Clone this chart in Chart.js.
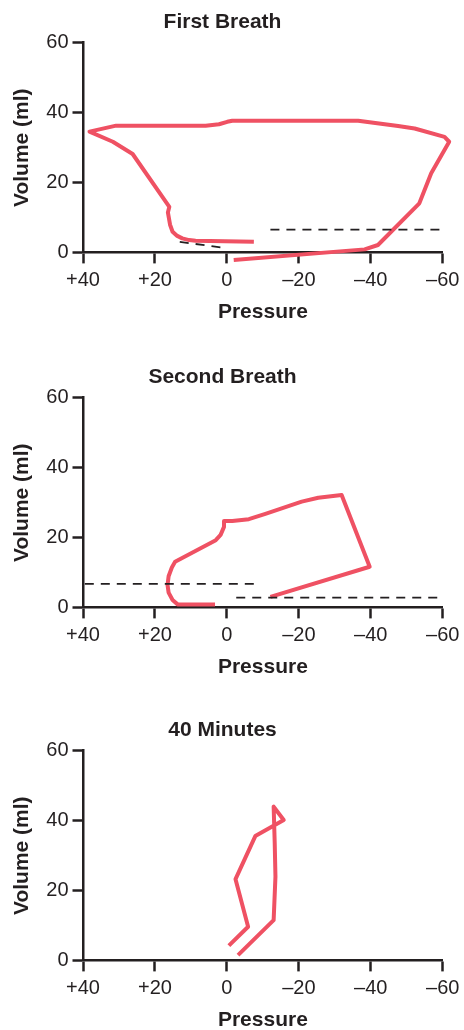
<!DOCTYPE html>
<html>
<head>
<meta charset="utf-8">
<script src="https://cdn.jsdelivr.net/npm/chart.js@4/dist/chart.umd.min.js"></script>
<style>
    html, body { margin: 0; padding: 0; background: #fff; overflow: hidden; }
    .panel { position: absolute; left: 0; width: 464px; height: 330px; }
</style>
</head>
<body>
<div class="panel" style="top:0px"><canvas id="breath1" width="464" height="330"></canvas></div>
<div class="panel" style="top:355px"><canvas id="breath2" width="464" height="330"></canvas></div>
<div class="panel" style="top:708px"><canvas id="breath3" width="464" height="330"></canvas></div>
<script>
// axis ticks
const pressureTicks = [40, 20, 0, -20, -40, -60];
const pressureTickLabels = ['+40', '+20', '0', '\u201320', '\u201340', '\u201360'];
const volumeTicks = [0, 20, 40, 60];
const volumeTickLabels = ['0', '20', '40', '60'];

// First breath: pressure / volume loop
const firstLoopPressure = [-1.9, -38.3, -42.0, -53.5, -56.8, -61.8, -60.5, -52.2, -47.6, -36.5, -1.5, -0.1, 2.2, 5.9, 11.4, 30.8, 38.2, 31.7, 26.2, 16.0, 16.4, 15.8, 15.1, 13.8, 12.4, 10.5, 8.7, -7.5];
const firstLoopVolume = [-2.1, 0.95, 2.2, 14.1, 22.7, 31.7, 33.1, 35.5, 36.2, 37.7, 37.7, 37.4, 36.7, 36.3, 36.3, 36.3, 34.6, 31.7, 28.2, 13.1, 11.5, 8.0, 6.0, 4.8, 4.1, 3.6, 3.4, 3.1];
const firstDashA = { pressure: [-12.1, -59.1], volume: [6.6, 6.6] };
const firstDashB = { pressure: [13.1, 1.7], volume: [3.1, 1.5] };

// Second breath
const secondLoopPressure = [3.3, 13.7, 15.1, 16.2, 16.5, 16.2, 15.3, 14.4, 3.1, 1.75, 0.8, 0.8, -1.5, -6.1, -10.7, -20.8, -25.4, -31.9, -39.7, -12.1];
const secondLoopVolume = [0.95, 0.95, 2.2, 4.3, 6.5, 9.0, 11.5, 13.1, 19.3, 20.8, 23.1, 24.8, 24.8, 25.3, 26.8, 30.3, 31.4, 32.2, 11.7, 3.1];
const secondDashA = { pressure: [39.5, -7.9], volume: [6.8, 6.8] };
const secondDashB = { pressure: [-2.6, -59.1], volume: [2.9, 2.9] };

// 40 minutes
const laterLoopPressure = [-0.55, -5.9, -2.4, -7.9, -15.8, -13.0, -13.3, -13.5, -13.0, -3.1];
const laterLoopVolume = [4.3, 9.7, 23.3, 35.6, 40.2, 44.0, 33.5, 24.0, 11.6, 1.6];

const colorLoop = '#ef5163';
const colorInk = '#231f20';
const fontFamily = "'Liberation Sans', Arial, Helvetica, sans-serif";

function toPoints(xs, ys) {
    return xs.map((x, i) => ({ x: x, y: ys[i] }));
}

function loopDataset(xs, ys) {
    return {
        data: toPoints(xs, ys),
        showLine: true,
        borderColor: colorLoop,
        borderWidth: 4,
        borderJoinStyle: 'round',
        borderCapStyle: 'butt',
        pointRadius: 0,
        tension: 0,
        clip: false
    };
}

function dashDataset(line) {
    return {
        data: toPoints(line.pressure, line.volume),
        showLine: true,
        borderColor: colorInk,
        borderWidth: 1.8,
        borderDash: [9, 7],
        pointRadius: 0,
        tension: 0,
        clip: false
    };
}

function drawPanel(canvasId, titleText, datasets) {
    return new Chart(document.getElementById(canvasId), {
        type: 'scatter',
        data: { datasets: datasets },
        options: {
            responsive: false,
            animation: false,
            devicePixelRatio: 1,
            layout: { padding: { left: 0, right: 19, top: 0, bottom: 0 } },
            plugins: {
                legend: { display: false },
                tooltip: { enabled: false },
                title: {
                    display: true,
                    text: titleText,
                    color: colorInk,
                    font: { family: fontFamily, size: 21, weight: 'bold', lineHeight: 1.2 },
                    padding: { top: 9.5, bottom: 8 }
                }
            },
            scales: {
                x: {
                    type: 'linear',
                    min: -60,
                    max: 40,
                    reverse: true,
                    afterBuildTicks: (scale) => {
                        scale.ticks = pressureTicks.map(v => ({ value: v }));
                    },
                    afterFit: (scale) => { scale.height = 77.3; },
                    border: { display: true, color: colorInk, width: 2.5 },
                    grid: {
                        drawOnChartArea: false,
                        drawTicks: true,
                        tickLength: 10.7,
                        tickColor: colorInk,
                        tickWidth: 2.5
                    },
                    ticks: {
                        color: colorInk,
                        padding: 4.6,
                        maxRotation: 0,
                        autoSkip: false,
                        font: { family: fontFamily, size: 20 },
                        callback: (value) => pressureTickLabels[pressureTicks.indexOf(value)]
                    },
                    title: {
                        display: true,
                        text: 'Pressure',
                        color: colorInk,
                        font: { family: fontFamily, size: 21, weight: 'bold', lineHeight: 1.2 },
                        padding: { top: 0, bottom: 5.4 }
                    }
                },
                y: {
                    type: 'linear',
                    min: 0,
                    max: 60,
                    afterBuildTicks: (scale) => {
                        scale.ticks = volumeTicks.map(v => ({ value: v }));
                    },
                    afterFit: (scale) => { scale.width = 83; },
                    border: { display: true, color: colorInk, width: 2.5 },
                    grid: {
                        drawOnChartArea: false,
                        drawTicks: true,
                        tickLength: 10.5,
                        tickColor: colorInk,
                        tickWidth: 2.5
                    },
                    ticks: {
                        color: colorInk,
                        padding: 4,
                        autoSkip: false,
                        font: { family: fontFamily, size: 20 },
                        callback: (value) => volumeTickLabels[volumeTicks.indexOf(value)]
                    },
                    title: {
                        display: true,
                        text: 'Volume (ml)',
                        color: colorInk,
                        font: { family: fontFamily, size: 21, weight: 'bold', lineHeight: 1.2 },
                        padding: { top: 9.4, bottom: 0 }
                    }
                }
            }
        }
    });
}

drawPanel('breath1', 'First Breath', [
    dashDataset(firstDashA),
    dashDataset(firstDashB),
    loopDataset(firstLoopPressure, firstLoopVolume)
]);

drawPanel('breath2', 'Second Breath', [
    dashDataset(secondDashA),
    dashDataset(secondDashB),
    loopDataset(secondLoopPressure, secondLoopVolume)
]);

drawPanel('breath3', '40 Minutes', [
    loopDataset(laterLoopPressure, laterLoopVolume)
]);
</script>
</body>
</html>
